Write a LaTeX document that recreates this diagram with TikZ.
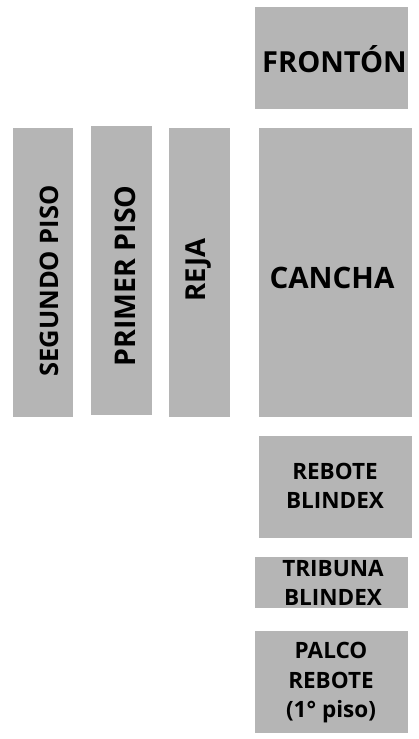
\documentclass[tikz,border=0pt]{standalone}
\usepackage{fontspec}
\setmainfont{Open Sans}[BoldFont={* Bold}]
\definecolor{boxgray}{HTML}{B5B5B5}
\begin{document}
\begin{tikzpicture}[x=1pt,y=-1pt,
  zone/.style={fill=boxgray,draw=none},
  big/.style={font=\bfseries\fontsize{29}{34}\selectfont,inner sep=0pt},
  vert/.style={inner sep=0pt,rotate=90},
  small/.style={font=\bfseries\fontsize{22.5}{29.5}\selectfont,inner sep=0pt,align=center}]
\useasboundingbox[fill=white] (0,0) rectangle (418,739);
% boxes
\path[zone] (255,7) rectangle (408,109);
\path[zone] (13,128) rectangle (73,417);
\path[zone] (91,126) rectangle (152,415);
\path[zone] (169,128) rectangle (230,417);
\path[zone] (259,128) rectangle (412,417);
\path[zone] (259,436) rectangle (412,538);
\path[zone] (255,557) rectangle (408,608);
\path[zone] (255,631) rectangle (408,733);
% labels
\node[big] (fronton) at (334.5,59) {FRONTÓN};
\node[big,font=\bfseries\fontsize{29.5}{34}\selectfont] (cancha) at (332,278) {CANCHA};
\node[vert,font=\bfseries\fontsize{25.5}{30}\selectfont] (segundo) at (49.5,281) {SEGUNDO PISO};
\node[vert,font=\bfseries\fontsize{28.5}{32}\selectfont] (primer) at (125,276) {PRIMER PISO};
\node[vert,font=\bfseries\fontsize{27.5}{32}\selectfont] (reja) at (199,270) {REJA};
\node[small] (rebote) at (335,486) {REBOTE\\BLINDEX};
\node[small] (tribuna) at (333,583) {TRIBUNA\\BLINDEX};
\node[small] (palco) at (331,683) {PALCO\\REBOTE\\(1° piso)};
\end{tikzpicture}
\end{document}
